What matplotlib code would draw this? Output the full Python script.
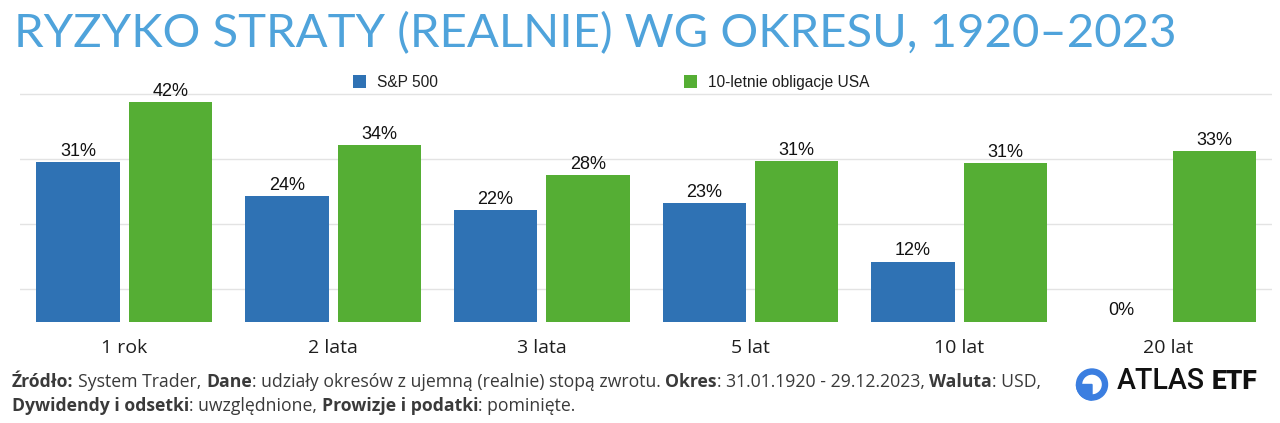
import matplotlib
matplotlib.use('Agg')
import matplotlib.pyplot as plt
import numpy as np
from matplotlib.patches import Wedge
from matplotlib.transforms import Affine2D

# ---------------- data ----------------
categories = ['1 rok', '2 lata', '3 lata', '5 lat', '10 lat', '20 lat']
sp500 = [30.8, 24.3, 21.6, 23.0, 11.6, 0.0]
bonds = [42.4, 34.1, 28.4, 31.1, 30.6, 33.0]
series_names = ['S&P 500', '10-letnie obligacje USA']
title = 'RYZYKO STRATY (REALNIE) WG OKRESU, 1920\u20132023'

BLUE = '#2F72B4'
GREEN = '#55AE34'
TITLE_C = '#4FA3DB'

W, H = 1280, 423
fig = plt.figure(figsize=(W / 100, H / 100), dpi=100)
PX = Affine2D().scale(1 / W, -1 / H).translate(0, 1) + fig.transFigure
renderer = fig.canvas.get_renderer()

# ---------------- axes ----------------
x0, x1, ybase, ytop = 20, 1272.4, 321.5, 70
ax = fig.add_axes([x0 / W, (H - ybase) / H, (x1 - x0) / W, (ybase - ytop) / H])
ax.set_xlim(-0.5, 5.5)
ax.set_ylim(0, 48.65)
x = np.arange(len(categories))
bw, off = 0.399, 0.2215
b1 = ax.bar(x - off, sp500, width=bw, color=BLUE, zorder=3)
b2 = ax.bar(x + off, bonds, width=bw, color=GREEN, zorder=3)

ax.set_yticks(np.arange(4) * 12.55 + 6.3)
ax.yaxis.grid(True, color='#e3e3e3', lw=1, zorder=0)
ax.tick_params(axis='y', length=0, labelleft=False)
for s in ax.spines.values():
    s.set_visible(False)
ax.set_xticks(x, categories)
ax.tick_params(axis='x', length=0, pad=12.5, labelsize=14, labelcolor='#1e1e1e')
for lab in ax.get_xticklabels():
    lab.set_family('Open Sans')

lab_kw = dict(fontsize=13, family='Liberation Sans', color='#111111')
ax.bar_label(b1, labels=[f'{v:.0f}%' for v in sp500], padding=1.5, **lab_kw)
ax.bar_label(b2, labels=[f'{v:.0f}%' for v in bonds], padding=1.5, **lab_kw)

# ---------------- legend ----------------
fs_leg = 11.2
fspx = fs_leg * 100 / 72
t = fig.text(0, 0, series_names[0], fontsize=fs_leg, family='Liberation Sans')
w0 = t.get_window_extent(renderer).width
t.remove()
sq, txt_pad, first_sq, second_sq = 13, 11, 353, 684
colsp = (second_sq - (first_sq + sq + txt_pad + w0)) / fspx
ax.legend([b1, b2], series_names, loc='center left',
          bbox_to_anchor=(first_sq / W, 1 - 82.5 / H), bbox_transform=fig.transFigure,
          ncol=2, frameon=False, prop={'family': 'Liberation Sans', 'size': fs_leg},
          handlelength=sq / fspx, handleheight=sq / fspx, handletextpad=txt_pad / fspx,
          columnspacing=colsp, borderpad=0, borderaxespad=0, labelcolor='#1e1e1e')

# ---------------- title ----------------
def fit_text(xp, yp, s, target_w, fs0, **kw):
    t = fig.text(xp / W, 1 - yp / H, s, fontsize=fs0, va='baseline', **kw)
    w = t.get_window_extent(renderer).width
    t.set_fontsize(fs0 * target_w / w)
    return t

fit_text(14, 47, title, 1162, 36, color=TITLE_C, family='Lato')

# ---------------- footer ----------------
FOOT_C = '#3a3a3a'
FOOT_FAM = 'Open Sans'
line1 = [('Źródło:', True, True), ('System Trader,', False, True), ('Dane', True, False),
         (': udziały okresów z ujemną (realnie) stopą zwrotu.', False, True),
         ('Okres', True, False), (': 31.01.1920 - 29.12.2023,', False, True),
         ('Waluta', True, False), (': USD,', False, False)]
line2 = [('Dywidendy i odsetki', True, False), (': uwzględnione,', False, True),
         ('Prowizje i podatki', True, False), (': pominięte.', False, False)]


def measure(s, fs, bold):
    t = fig.text(0, 0, s, fontsize=fs, family=FOOT_FAM, fontweight='bold' if bold else 'normal')
    w = t.get_window_extent(renderer).width
    t.remove()
    return w


def line_width(runs, fs):
    sp = measure('x x', fs, False) - measure('xx', fs, False)
    tot = 0
    for s, b, gap in runs:
        tot += measure(s, fs, b) + (sp if gap else 0)
    return tot


def draw_runs(runs, xp, yp, fs):
    sp = measure('x x', fs, False) - measure('xx', fs, False)
    cx = xp
    for s, b, gap in runs:
        t = fig.text(cx / W, 1 - yp / H, s, fontsize=fs, family=FOOT_FAM,
                     fontweight='bold' if b else 'normal', color=FOOT_C, va='baseline')
        cx += t.get_window_extent(renderer).width + (sp if gap else 0)


fs_foot = 12 * 1028 / line_width(line1, 12)
draw_runs(line1, 12, 387, fs_foot)
draw_runs(line2, 12, 411, fs_foot)

# ---------------- logo ----------------
LOGO_C = '#3B7EE0'
cx, cy, r = 1092, 384.5, 15.5
fig.add_artist(Wedge((cx, cy), r, 0, 360, width=5, color=LOGO_C, transform=PX))
fig.add_artist(Wedge((cx, cy), r, 90, 180, color=LOGO_C, transform=PX))
fit_text(1117, 389, 'ATLAS', 88, 16, family='Roboto', color='#111111', fontweight='medium')
fit_text(1212, 389, 'ETF', 46, 16, family='Roboto', color='#111111', fontweight='black')

fig.savefig('out.png', dpi=100, facecolor='white')
